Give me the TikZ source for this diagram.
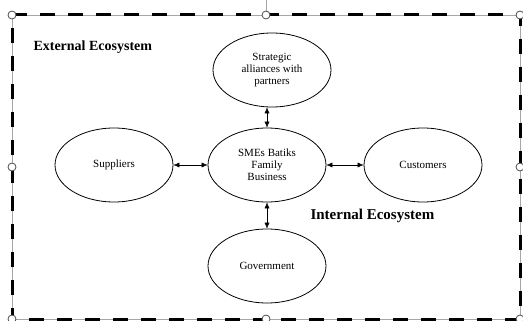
\documentclass[tikz,border=0pt]{standalone}
\usepackage{fontspec}
\setmainfont{Liberation Serif}
\usepackage{tikz}
\usetikzlibrary{arrows.meta}
\usetikzlibrary{shapes.geometric}

\begin{document}
\begin{tikzpicture}[
x=1pt,y=-1pt,
MyEllipses/.style={ellipse,draw=black,thick,minimum width=118pt,minimum height=74pt,align=center,font=\fontsize{11}{12}\selectfont},
Links/.style={{Latex[length=6pt,width=5pt]}-{Latex[length=6pt,width=5pt]},black,thin},
Frame/.style={draw=black,line width=3pt,dash pattern=on 15pt off 13pt},
Outline/.style={draw=gray!70,thin},
Handles/.style={draw=gray!60!black,fill=white,thick},
Titles/.style={font=\bfseries\fontsize{14}{16}\selectfont,anchor=west}
]
%\grid;
\useasboundingbox (0,0) rectangle (523,321);

% selection frame
\coordinate (TL) at (12,15);
\coordinate (TR) at (520,15);
\coordinate (BR) at (520,319);
\coordinate (BL) at (12,319);
\draw[Outline] (TL) rectangle (BR);
\draw[Frame] (TL) -- (TR) -- (BR) -- (BL) -- cycle;
\draw[Outline] (266,0) -- (266,15);
\foreach \P in {(12,15),(266,15),(520,15),(12,167),(520,167),(12,319),(266,319),(520,319)}
  \draw[Handles] \P circle (4pt);

% ellipses
\node[MyEllipses] (SME) at (267,165) {SMEs Batiks\\Family\\Business};
\node[MyEllipses] (Alliances) at (272,70) {Strategic\\alliances with\\partners};
\node[MyEllipses] (Suppliers) at (114,165) {Suppliers};
\node[MyEllipses] (Customers) at (423,165) {Customers};
\node[MyEllipses] (Government) at (267,266) {Government};

% headings
\node[Titles] (External) at (30,47) {External Ecosystem};
\node[Titles,font=\bfseries\fontsize{15}{17}\selectfont] (Internal) at (307,216) {Internal Ecosystem};

% links
\draw[Links] (Alliances.south -| SME.north) -- (SME.north);
\draw[Links] (SME.west) -- (Suppliers.east);
\draw[Links] (SME.east) -- (Customers.west);
\draw[Links] (SME.south) -- (Government.north);

\end{tikzpicture}
\end{document}
